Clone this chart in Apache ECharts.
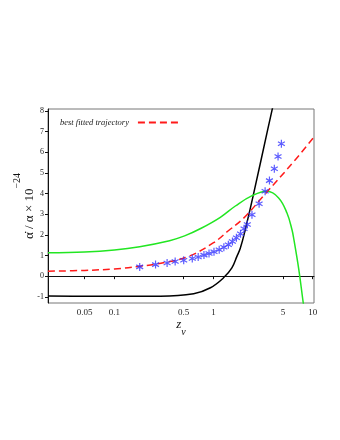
<!DOCTYPE html>
<html>
<head>
<meta charset="utf-8">
<script src="https://cdn.jsdelivr.net/npm/echarts@6/dist/echarts.min.js"></script>
<style>
html, body { margin: 0; background: #fff; }
#main { width: 340px; height: 440px; }
</style>
</head>
<body>
<div id="main"></div>
<script>
// axis ticks
var xTicks = [0.05, 0.1, 0.5, 1, 5, 10];
var xTickLabels = ['0.05', '0.1', '0.5', '1', '5', '10'];
var yTicks = [-1, 0, 1, 2, 3, 4, 5, 6, 7, 8];

// black curve
var blackZ = [0.0214, 0.05, 0.1, 0.29, 0.63, 0.93, 1.26, 1.53, 1.72, 1.86, 2.09, 2.51, 3.51, 4.17];
var blackY = [-0.96, -0.97, -0.97, -0.97, -0.85, -0.56, -0.08, 0.40, 0.96, 1.35, 2.26, 3.9, 7.09, 8.7];

// green curve
var greenZ = [0.0214, 0.05, 0.1, 0.18, 0.36, 0.51, 0.75, 1.17, 1.66, 2.45, 3.47, 4.53, 5.5, 6.17, 6.46, 7.24, 7.94, 8.3];
var greenY = [1.13, 1.17, 1.27, 1.43, 1.72, 1.95, 2.32, 2.85, 3.4, 3.9, 4.11, 3.79, 3.06, 2.26, 1.77, 0.32, -1.13, -1.8];

// best fitted trajectory (red dashed)
var fitZ = [0.0214, 0.05, 0.1, 0.18, 0.32, 0.56, 1.0, 1.41, 2.0, 3.16, 6.68, 10.3];
var fitY = [0.24, 0.28, 0.35, 0.48, 0.66, 0.96, 1.62, 2.2, 2.8, 3.87, 5.64, 6.75];

// observed points (blue stars)
var obsZ = [0.18, 0.26, 0.34, 0.41, 0.50, 0.61, 0.70, 0.80, 0.90, 1.01, 1.14, 1.27, 1.41,
            1.55, 1.70, 1.87, 2.03, 2.19, 2.44, 2.88, 3.31, 3.66, 4.10, 4.47, 4.83];
var obsY = [0.45, 0.56, 0.64, 0.71, 0.77, 0.86, 0.93, 1.02, 1.10, 1.18, 1.28, 1.40, 1.52,
            1.68, 1.86, 2.06, 2.30, 2.50, 2.98, 3.51, 4.11, 4.63, 5.20, 5.80, 6.42];

function pairs(xs, ys) {
    var out = [];
    for (var i = 0; i < xs.length; i++) {
        out.push([xs[i], ys[i]]);
    }
    return out;
}

var serif = '"Liberation Serif", "DejaVu Serif", serif';
var chart = echarts.init(document.getElementById('main'));

var option = {
    animation: false,
    backgroundColor: '#fff',
    grid: {
        left: 48,
        right: 26,
        top: 109,
        bottom: 137,
        show: true,
        borderColor: '#777',
        borderWidth: 1
    },
    legend: {
        left: 55,
        top: 113,
        align: 'right',
        itemWidth: 40,
        itemHeight: 10,
        data: ['best fitted trajectory'],
        itemStyle: { opacity: 0 },
        textStyle: {
            fontFamily: serif,
            fontStyle: 'italic',
            fontSize: 8.5,
            color: '#222',
            padding: [0, 4, 0, 0]
        }
    },
    xAxis: {
        type: 'log',
        logBase: 10,
        min: 0.0214,
        max: 10.3,
        name: '{z|z}{v|v}',
        nameLocation: 'middle',
        nameGap: 12,
        nameTextStyle: {
            rich: {
                z: { fontFamily: serif, fontStyle: 'italic', fontSize: 13, color: '#111', lineHeight: 19, verticalAlign: 'top' },
                v: { fontFamily: serif, fontStyle: 'italic', fontSize: 10, color: '#111', lineHeight: 19, verticalAlign: 'bottom' }
            }
        },
        axisLine: { lineStyle: { color: '#111', width: 1 } },
        axisTick: { length: 3, customValues: xTicks, lineStyle: { color: '#111' } },
        axisLabel: {
            customValues: xTicks,
            margin: 5,
            fontFamily: serif,
            fontSize: 9,
            color: '#222',
            formatter: function (v) {
                for (var i = 0; i < xTicks.length; i++) {
                    if (Math.abs(xTicks[i] - v) < 1e-9) return xTickLabels[i];
                }
                return '';
            }
        },
        splitLine: { show: false },
        minorTick: { show: false }
    },
    yAxis: {
        type: 'value',
        min: -1.3,
        max: 8.1,
        name: '{m|α̇ / α × 10}{s|−24}',
        nameLocation: 'middle',
        nameGap: 12,
        nameMoveOverlap: false,
        nameRotate: 90,
        nameTextStyle: {
            rich: {
                m: { fontFamily: serif, fontSize: 13, color: '#111', lineHeight: 24, verticalAlign: 'bottom' },
                s: { fontFamily: serif, fontSize: 10, color: '#111', lineHeight: 24, verticalAlign: 'top' }
            }
        },
        axisLine: { show: true, lineStyle: { color: '#111', width: 1 } },
        axisTick: { show: true, length: 3, customValues: yTicks, lineStyle: { color: '#111' } },
        axisLabel: {
            customValues: yTicks,
            margin: 4,
            fontFamily: serif,
            fontSize: 8,
            color: '#222'
        },
        splitLine: { show: false }
    },
    series: [
        {
            name: 'black',
            type: 'line',
            smooth: 0.4,
            symbol: 'none',
            lineStyle: { color: '#000', width: 1.5 },
            data: pairs(blackZ, blackY)
        },
        {
            name: 'green',
            type: 'line',
            smooth: 0.4,
            symbol: 'none',
            lineStyle: { color: '#22e622', width: 1.5 },
            data: pairs(greenZ, greenY)
        },
        {
            name: 'best fitted trajectory',
            type: 'line',
            smooth: 0.4,
            symbol: 'none',
            itemStyle: { color: '#ff1a1a' },
            lineStyle: { color: '#ff1a1a', width: 1.5, type: [7, 4] },
            data: pairs(fitZ, fitY)
        },
        {
            name: 'observed',
            type: 'scatter',
            symbol: 'path://M0,-5L0,5M-4.33,-2.5L4.33,2.5M-4.33,2.5L4.33,-2.5',
            symbolSize: 8,
            symbolKeepAspect: true,
            itemStyle: { color: 'rgba(0,0,0,0)', borderColor: '#3535ff', borderWidth: 1.2 },
            data: pairs(obsZ, obsY),
            z: 5
        }
    ]
};

chart.setOption(option);
</script>
</body>
</html>
